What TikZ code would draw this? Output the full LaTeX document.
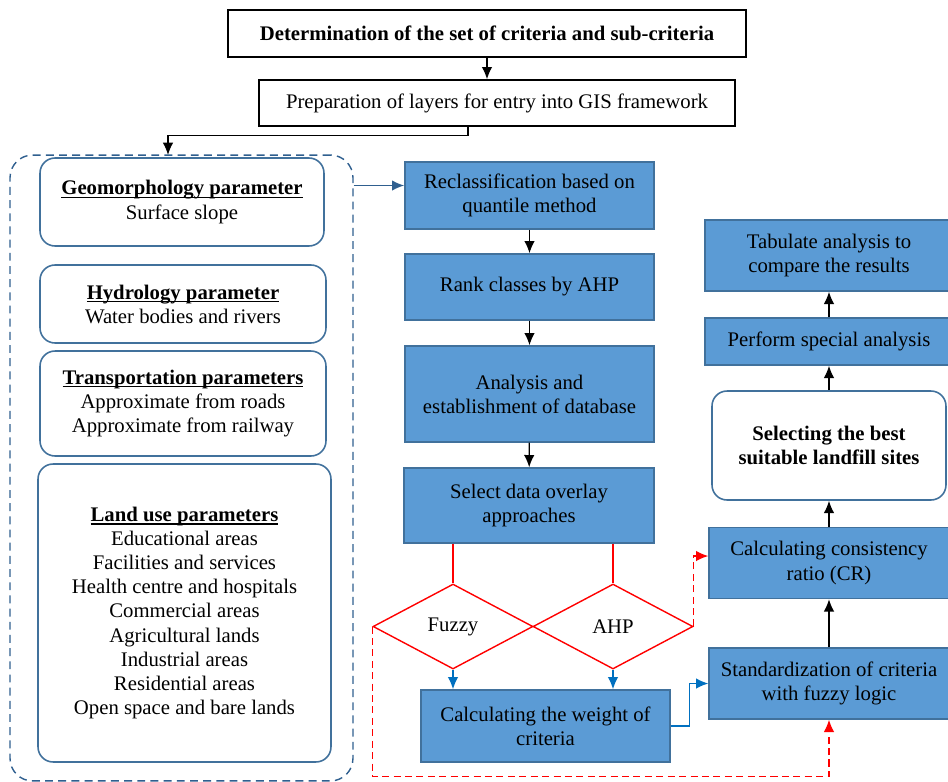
\documentclass[tikz,border=0pt]{standalone}
\usepackage{fontspec}
\setmainfont{Liberation Serif}
\usepackage{tikz}
\usetikzlibrary{shapes.geometric, arrows.meta}
\definecolor{boxfill}{HTML}{5B9BD5}
\definecolor{boxline}{HTML}{41719C}
\definecolor{arrowblue}{HTML}{0070C0}
\definecolor{linkblue}{HTML}{2F5F8F}
% bold heading with a rule just under the baseline
\newcommand{\uhead}[1]{\setbox0\hbox{\textbf{#1}}\rlap{\rule[-1.6pt]{\wd0}{0.6pt}}\box0}

\begin{document}
\begin{tikzpicture}[x=0.02cm, y=-0.02cm,
        font=\fontsize{11.8}{13.7}\selectfont,
        plainbox/.style={draw=black, thick, fill=white, inner sep=0pt, align=center},
        bluebox/.style={draw=boxline, line width=0.8pt, fill=boxfill, inner sep=0pt, align=center},
        roundbox/.style={draw=boxline, line width=0.9pt, fill=white, rounded corners=0.3cm, inner sep=0pt, align=center},
        choice/.style={diamond, draw=red, line width=0.8pt, inner sep=0pt, minimum width=3.2cm, minimum height=1.7cm},
        tip/.style={-{Latex[length=7pt, width=6pt]}},
        flow/.style={tip, thick},
        blueflow/.style={tip, arrowblue, line width=0.8pt},
        redflow/.style={tip, red, dash pattern=on 4pt off 2.5pt, line width=0.8pt}]
        \useasboundingbox (0,0) rectangle (948,782);

        % top of the chart
        \node[plainbox, minimum width=10.36cm, minimum height=0.94cm] (crit) at (487,33.5) {\textbf{Determination of the set of criteria and sub-criteria}};
        \node[plainbox, minimum width=9.52cm, minimum height=0.92cm] (prep) at (497,103) {Preparation of layers for entry into GIS framework};

        % parameter group on the left
        \node[draw=linkblue, dash pattern=on 4.5pt off 3pt, line width=0.8pt, rounded corners=0.45cm, minimum width=6.86cm, minimum height=12.52cm] (params) at (181.5,468) {};
        \node[roundbox, minimum width=5.68cm, minimum height=1.76cm] (geo) at (182,202) {\uhead{Geomorphology parameter}\\Surface slope};
        \node[roundbox, minimum width=5.72cm, minimum height=1.56cm] (hydro) at (183,304) {\uhead{Hydrology parameter}\\Water bodies and rivers};
        \node[roundbox, minimum width=5.72cm, minimum height=2.10cm] (trans) at (183,403.5) {\uhead{Transportation parameters}\\Approximate from roads\\Approximate from railway};
        \node[roundbox, minimum width=5.86cm, minimum height=5.96cm] (land) at (184.5,613) {\uhead{Land use parameters}\\Educational areas\\Facilities and services\\Health centre and hospitals\\Commercial areas\\Agricultural lands\\Industrial areas\\Residential areas\\Open space and bare lands};

        % middle column
        \node[bluebox, minimum width=4.98cm, minimum height=1.34cm] (recl) at (529.5,195.5) {Reclassification based on\\quantile method};
        \node[bluebox, minimum width=4.98cm, minimum height=1.32cm] (rank) at (529.5,287) {Rank classes by AHP};
        \node[bluebox, minimum width=4.98cm, minimum height=1.92cm] (anal) at (529.5,394) {Analysis and\\establishment of database};
        \node[bluebox, minimum width=5.00cm, minimum height=1.50cm] (sel) at (529,505.5) {Select data overlay\\approaches};
        \node[choice] (fuzzy) at (453,626.5) {Fuzzy};
        \node[choice] (ahp) at (613,626.5) {AHP};
        \node[bluebox, minimum width=4.98cm, minimum height=1.44cm] (weight) at (545.5,726) {Calculating the weight of\\criteria};

        % right column
        \node[bluebox, minimum width=4.80cm, minimum height=1.42cm] (std) at (829,683.5) {Standardization of criteria\\with fuzzy logic};
        \node[bluebox, minimum width=4.80cm, minimum height=1.42cm] (cr) at (829,563) {Calculating consistency\\ratio (CR)};
        \node[roundbox, minimum width=4.68cm, minimum height=2.18cm] (best) at (829,445.5) {\textbf{Selecting the best}\\\textbf{suitable landfill sites}};
        \node[bluebox, minimum width=4.96cm, minimum height=0.94cm] (perf) at (829,341.5) {Perform special analysis};
        \node[bluebox, minimum width=4.96cm, minimum height=1.42cm] (tab) at (829,255.5) {Tabulate analysis to\\compare the results};

        % connectors
        \coordinate (pin) at (168,155);
        \draw[flow] (crit.south) -- (crit.south |- prep.north);
        \draw[flow] ([xshift=-0.58cm]prep.south) -- ++(0,9) -| (pin);
        \draw[tip, linkblue, line width=0.9pt] ([yshift=0.2cm]recl.west -| params.east) -- ([yshift=0.2cm]recl.west);
        \draw[flow] (recl) -- (rank);
        \draw[flow] (rank) -- (anal);
        \draw[flow] (anal) -- (sel);
        \draw[red, line width=0.8pt] (sel.south -| fuzzy.north) -- (fuzzy.north);
        \draw[red, line width=0.8pt] (sel.south -| ahp.north) -- (ahp.north);
        \draw[blueflow] (fuzzy.south) -- (fuzzy.south |- weight.north);
        \draw[blueflow] (ahp.south) -- (ahp.south |- weight.north);
        \draw[blueflow] (weight.east) -- ++(19,0) |- (std.west);
        \draw[redflow] (fuzzy.west) -- ++(0,150) -| (std.south);
        \draw[redflow] (ahp.east) |- ([yshift=0.14cm]cr.west);
        \draw[flow] (std) -- (cr);
        \draw[flow] (cr) -- (best);
        \draw[flow] (best) -- (perf);
        \draw[flow] (perf) -- (tab);
\end{tikzpicture}
\end{document}
